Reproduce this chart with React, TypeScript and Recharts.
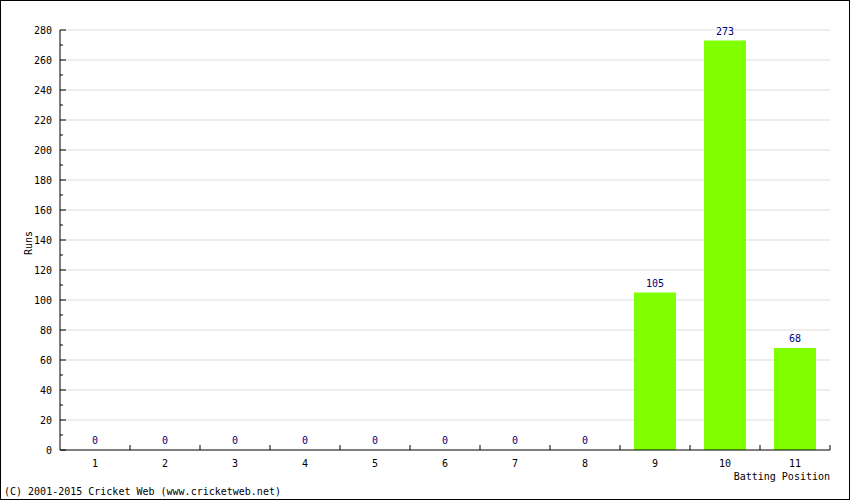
import { ComposedChart, Bar, Line, XAxis, YAxis, CartesianGrid, LabelList } from 'recharts';

// Runs scored per batting position
const positions = ['1', '2', '3', '4', '5', '6', '7', '8', '9', '10', '11'];
const runs = [0, 0, 0, 0, 0, 0, 0, 0, 105, 273, 68];

const yTicks = [0, 10, 20, 30, 40, 50, 60, 70, 80, 90, 100, 110, 120, 130, 140, 150, 160, 170, 180, 190, 200, 210, 220, 230, 240, 250, 260, 270, 280];
const gridValues = [20, 40, 60, 80, 100, 120, 140, 160, 180, 200, 220, 240, 260, 280];

const data = positions.map((p, i) => ({ pos: p, runs: runs[i] }));

const W = 850;
const H = 500;
const PLOT_LEFT = 60;
const PLOT_RIGHT = 830;
const BAND = (PLOT_RIGHT - PLOT_LEFT) / positions.length;
const FONT = '"DejaVu Sans Mono", monospace';

function YTick(props: any) {
  const { x, y, payload } = props;
  const major = payload.value % 20 === 0;
  const ax = x + 8;
  return (
    <g>
      <line x1={ax} x2={ax + (major ? 6 : 3)} y1={y} y2={y} stroke="#000" />
      {major && (
        <text x={x} y={y} dy="0.36em" textAnchor="end" fontFamily={FONT} fontSize={10} fill="#000">
          {payload.value}
        </text>
      )}
    </g>
  );
}

function XTick(props: any) {
  const { x, y, payload } = props;
  return (
    <g>
      <line x1={x + BAND / 2} x2={x + BAND / 2} y1={y} y2={y - 5} stroke="#000" />
      <text x={x} y={y + 13} dy="0.36em" textAnchor="middle" fontFamily={FONT} fontSize={10} fill="#000">
        {payload.value}
      </text>
    </g>
  );
}

export default function App() {
  return (
    <div style={{ position: 'absolute', left: 0, top: 0, width: W, height: H, background: '#fff' }}>
      <ComposedChart
        width={W}
        height={H}
        data={data}
        margin={{ top: 30, right: W - PLOT_RIGHT, bottom: 0, left: 0 }}
        barCategoryGap="20%"
      >
        <CartesianGrid vertical={false} stroke="#dddddd" horizontalValues={gridValues} />
        <XAxis
          dataKey="pos"
          height={50}
          tickLine={false}
          tickSize={0}
          tickMargin={0}
          axisLine={{ stroke: '#000' }}
          interval={0}
          tick={<XTick />}
        />
        <YAxis
          width={PLOT_LEFT}
          domain={[0, 280]}
          ticks={yTicks}
          interval={0}
          tickLine={false}
          tickSize={0}
          tickMargin={8}
          axisLine={{ stroke: '#000' }}
          tick={<YTick />}
        />
        <Bar dataKey="runs" fill="#80ff00" isAnimationActive={false} />
        <Line dataKey="runs" stroke="none" dot={false} activeDot={false} isAnimationActive={false}>
          <LabelList dataKey="runs" position="top" offset={6} fill="#000080" fontFamily={FONT} fontSize={10} />
        </Line>
      </ComposedChart>
      <div
        style={{
          position: 'absolute', left: 29, top: 243, transform: 'translate(-50%, -50%) rotate(-90deg)',
          fontFamily: FONT, fontSize: 10, lineHeight: '10px', whiteSpace: 'nowrap',
        }}
      >
        Runs
      </div>
      <div
        style={{
          position: 'absolute', right: W - PLOT_RIGHT, top: 471,
          fontFamily: FONT, fontSize: 10, lineHeight: '12px', whiteSpace: 'nowrap',
        }}
      >
        Batting Position
      </div>
      <div
        style={{
          position: 'absolute', left: 4, top: 486,
          fontFamily: FONT, fontSize: 10, lineHeight: '12px', whiteSpace: 'nowrap',
        }}
      >
        (C) 2001-2015 Cricket Web (www.cricketweb.net)
      </div>
      <div
        style={{
          position: 'absolute', left: 0, top: 0, width: W, height: H, boxSizing: 'border-box',
          border: '1px solid #000', pointerEvents: 'none',
        }}
      />
    </div>
  );
}
